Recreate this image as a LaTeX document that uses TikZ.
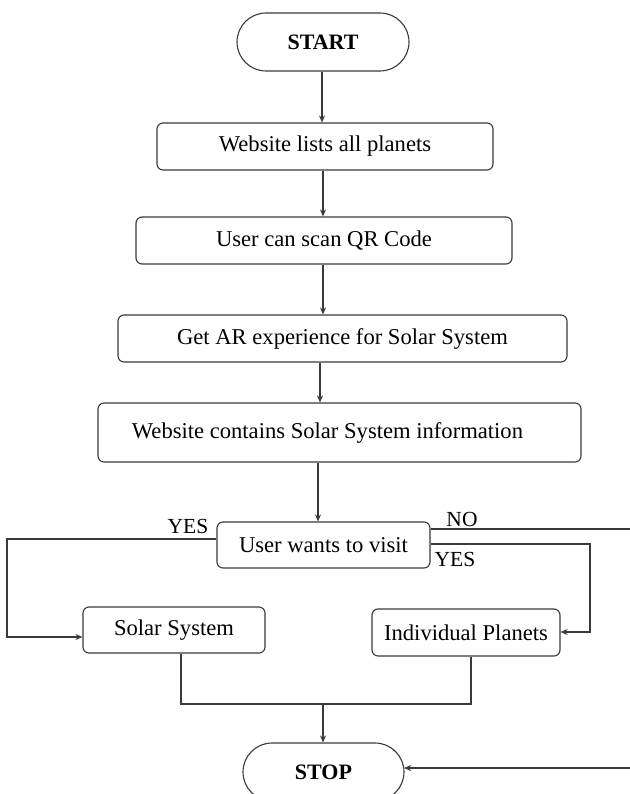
\documentclass[tikz,border=0pt]{standalone}
\usepackage{fontspec}
\setmainfont{Liberation Serif}
\usetikzlibrary{shapes.misc,arrows.meta}
\definecolor{ln}{HTML}{3A3A3A}
\begin{document}
\begin{tikzpicture}[x=1pt,y=-1pt,
  every node/.style={font=\fontsize{22.6}{26}\selectfont, text=black},
  procbox/.style={draw=ln, line width=1.1pt, rounded corners=6pt, inner sep=0pt},
  termbox/.style={draw=ln, line width=1.1pt, rounded rectangle, inner sep=0pt, font=\fontsize{22}{26}\selectfont\bfseries},
  conn/.style={draw=ln, line width=1.1pt},
  arr/.style={conn, -{Stealth[length=7pt,width=6pt]}},
  lbl/.style={inner sep=0pt, font=\fontsize{21.5}{25}\selectfont}]
\useasboundingbox (0,0) rectangle (629,794);
\fill[white] (0,0) rectangle (629,794);

\node[termbox, minimum width=172pt, minimum height=58pt] (start) at (323,42) {START};
\node[procbox, minimum width=336pt, minimum height=47pt] (b1) at (325,146.5) {Website lists all planets};
\node[procbox, minimum width=376pt, minimum height=47pt] (b2) at (324,240.5) {User can scan QR Code};
\node[procbox, minimum width=449pt, minimum height=47pt] (b3) at (342.5,338.5) {Get AR experience for Solar System};
\node[procbox, minimum width=483pt, minimum height=59pt] (b4) at (339.5,432.5) {\hspace*{-24pt}Website contains Solar System information};
\node[procbox, minimum width=213pt, minimum height=46pt] (dec) at (323.5,545) {User wants to visit};
\node[procbox, minimum width=182pt, minimum height=46pt] (sol) at (174,630) {Solar System};
\node[procbox, minimum width=188pt, minimum height=47pt] (ind) at (466,632.5) {Individual Planets};
\node[termbox, minimum width=161pt, minimum height=58pt] (stop) at (323.5,772) {STOP};

\draw[arr] (start.south -| 322,0) -- (b1.north -| 322,0);
\draw[arr] (b1.south -| 323,0) -- (b2.north -| 323,0);
\draw[arr] (b2.south -| 323,0) -- (b3.north -| 323,0);
\draw[arr] (b3.south -| 320,0) -- (b4.north -| 320,0);
\draw[arr] (b4.south -| 318,0) -- (dec.north -| 318,0);

\coordinate (l1) at (7,539);
\coordinate (l2) at (7,637);
\draw[arr] (dec.west |- l1) -- (l1) -- (l2) -- (sol.west |- l2);

\coordinate (r1) at (590,544);
\coordinate (r2) at (590,632);
\draw[arr] (dec.east |- r1) -- (r1) -- (r2) -- (ind.east |- r2);

\coordinate (n1) at (640,529);
\coordinate (n2) at (640,768);
\draw[arr] (dec.east |- n1) -- (n1) -- (n2) -- ([xshift=-0.5pt]stop.east |- n2);

\coordinate (m1) at (181,704);
\coordinate (m2) at (471,704);
\coordinate (m0) at (323,704);
\draw[conn] (sol.south -| m1) -- (m1) -- (m2) -- (ind.south -| m2);
\draw[arr] (m0) -- (stop.north -| m0);

\node[lbl] (yl) at (188,526) {YES};
\node[lbl] (no) at (462,519) {NO};
\node[lbl] (yr) at (455,559) {YES};
\end{tikzpicture}
\end{document}
